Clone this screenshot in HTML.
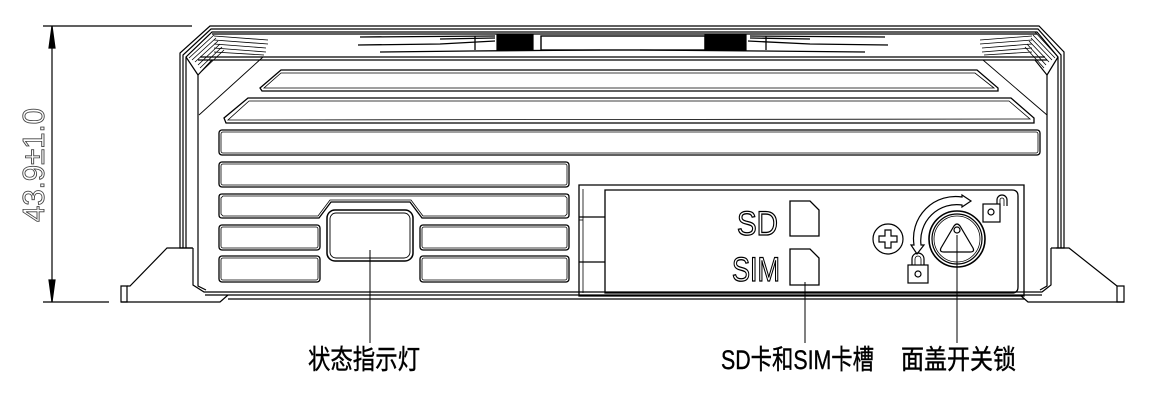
<!DOCTYPE html>
<html><head><meta charset="utf-8"><style>
html,body{margin:0;padding:0;background:#fff;}
svg{display:block;}
</style></head><body>
<svg width="1161" height="406" viewBox="0 0 1161 406" xmlns="http://www.w3.org/2000/svg" fill="none" stroke="#000" stroke-width="1.2">
<!-- dimension -->
<line x1="43" y1="26" x2="192" y2="26"/>
<line x1="43" y1="302" x2="109" y2="302"/>
<line x1="52" y1="26" x2="52" y2="302"/>
<polygon points="52,26 49,48 55,48" fill="#000"/>
<polygon points="52,302 49,280 55,280" fill="#000"/>
<text x="0" y="0" transform="translate(44,165) rotate(-90)" text-anchor="middle" font-family="Liberation Sans, sans-serif" font-size="31" textLength="114" lengthAdjust="spacingAndGlyphs" fill="none" stroke="#444" stroke-width="0.9">43.9±1.0</text>

<!-- body outer -->
<path d="M192,248 L180,248 L180,53 L210,26 L1039,26 L1064,52 L1064,248 L1056,248" />
<path d="M183,248 L183,55 L211,29 L1038,29 L1061,55 L1061,248"/>
<path d="M186,248 L186,57 L212,32 L1037,32 L1058,57 L1058,248"/>
<path d="M193,248 L193,285 L204,292 L1042,292 L1051,285 L1051,248"/>
<path d="M198,75 L198,286 L206,290"/>
<path d="M1047,75 L1047,286 L1040,290"/>
<line x1="205" y1="295" x2="1042" y2="295"/>
<line x1="228" y1="299" x2="1025" y2="299"/>
<!-- top band lines -->
<line x1="212" y1="34" x2="1037" y2="34"/>
<line x1="200" y1="57" x2="1045" y2="57"/>
<line x1="198" y1="60" x2="1047" y2="60"/>
<path d="M198,75 L212,60 M186,57 L198,75"/>
<path d="M1047,75 L1035,60 M1058,57 L1047,75"/>
<!-- hatching corners -->
<g stroke-width="0.8">
<path d="M186,57 L212,32 M189,58 L214,35 M192,60 L216,38 M195,62 L218,41 M198,65 L220,44 M200,68 L222,47 M202,71 L224,50"/>
<path d="M214,36 L268,40 M214,40 L268,44 M214,44 L266,48 M214,48 L266,52 M214,52 L264,55"/>
<path d="M1058,57 L1035,32 M1055,58 L1033,35 M1052,60 L1031,38 M1049,62 L1029,41 M1046,65 L1027,44 M1044,68 L1025,47"/>
<path d="M1032,36 L980,40 M1032,40 L980,44 M1032,44 L982,48 M1032,48 L982,52 M1032,52 L984,55"/>
</g>
<!-- center top details -->
<rect x="497" y="35" width="36" height="15" fill="#000"/>
<rect x="705" y="35" width="41" height="15" fill="#000"/>
<rect x="541" y="36" width="164" height="14" stroke-width="1.4"/>
<g stroke-width="1.3">
<path d="M360,37 L495,36 M440,39 L495,38"/>
<path d="M358,45 L440,44 L495,41"/>
<path d="M380,52 L470,51 L600,50"/>
<path d="M750,36 L885,37 M750,38 L810,39"/>
<path d="M748,41 L810,44 L888,45"/>
<path d="M640,50 L760,51 L865,52"/>
<line x1="475" y1="36" x2="475" y2="50"/><line x1="766" y1="36" x2="766" y2="50"/>
</g>
<line x1="263" y1="57" x2="199" y2="115" stroke-width="0.9"/>
<line x1="983" y1="60" x2="1047" y2="115" stroke-width="0.9"/>

<!-- vents -->
<g stroke-width="1.3">
<path d="M281,70 L977,70 L998,88 L998,91 L262,91 L260,88 Z"/>
<path d="M281,73 L975,73 L994,88 L264,88 Z" stroke-width="0.8"/>
<path d="M248,98 L1011,98 L1034,118 L1034,123 L226,123 L224,118 Z"/>
<path d="M249,101 L1009,101 L1030,119 L228,120 Z" stroke-width="0.8"/>
<rect x="219" y="130" width="821" height="25" rx="3"/>
<rect x="221" y="132" width="817" height="21" rx="2" stroke-width="0.8"/>
<rect x="219" y="162" width="350" height="25" rx="3"/>
<rect x="221" y="164" width="346" height="21" rx="2" stroke-width="0.8"/>
<path d="M222,194 L566,194 Q569,194 569,197 L569,215 Q569,218 566,218 L422,218 L410,202 L331,202 L319,218 L222,218 Q219,218 219,215 L219,197 Q219,194 222,194 Z"/>
<path d="M223,196 L565,196 L567,198 L567,214 L565,216 L423,216 L411,200 L330,200 L318,216 L223,216 L221,214 L221,198 Z" stroke-width="0.8"/>
<rect x="219" y="225" width="101" height="25" rx="3"/>
<rect x="221" y="227" width="97" height="21" rx="2" stroke-width="0.8"/>
<rect x="420" y="225" width="149" height="25" rx="3"/>
<rect x="422" y="227" width="145" height="21" rx="2" stroke-width="0.8"/>
<rect x="219" y="256" width="101" height="26" rx="3"/>
<rect x="221" y="258" width="97" height="22" rx="2" stroke-width="0.8"/>
<rect x="420" y="256" width="149" height="26" rx="3"/>
<rect x="422" y="258" width="145" height="22" rx="2" stroke-width="0.8"/>
<!-- LED -->
<rect x="327" y="210" width="86" height="51" rx="8" stroke-width="1.5"/>
<rect x="330" y="213" width="80" height="45" rx="6" stroke-width="0.9"/>
</g>

<!-- feet -->
<path d="M121,286 L121,302 L127,302 L127,286 Z"/>
<path d="M127,286 L130,286 L167,248 L193,248"/>
<path d="M121,302 L220,302 L228,295"/>
<path d="M1124,286 L1124,302 L1117,302 L1117,286 Z"/>
<path d="M1117,286 L1069,248 L1051,248"/>
<path d="M1124,302 L1028,302 L1020,295"/>

<!-- SD panel -->
<g stroke-width="1.3">
<path d="M579,185 L1024,185 L1024,296 L579,296 Z"/>
<path d="M605,190 L1012,190 Q1018,190 1018,196 L1018,287 Q1018,293 1012,293 L605,293 Z"/>
<line x1="583" y1="189" x2="583" y2="293" stroke-width="0.8"/>
<line x1="579" y1="217" x2="605" y2="217"/>
<line x1="579" y1="262" x2="605" y2="262"/>
<line x1="579" y1="220" x2="583" y2="220" stroke-width="0.8"/>
<path d="M790,201 L810,201 L819,210 L819,236 L790,236 Z"/>
<path d="M790,249 L810,249 L819,258 L819,285 L790,285 Z"/>
</g>
<text x="737" y="235" font-family="Liberation Sans, sans-serif" font-size="34" textLength="41" lengthAdjust="spacingAndGlyphs" fill="#fff" stroke="#000" stroke-width="1.3">SD</text>
<text x="732" y="281" font-family="Liberation Sans, sans-serif" font-size="34" textLength="48" lengthAdjust="spacingAndGlyphs" fill="#fff" stroke="#000" stroke-width="1.3">SIM</text>

<!-- plus circle -->
<circle cx="888" cy="239" r="15"/>
<path d="M885,230 L891,230 L891,236 L897,236 L897,242 L891,242 L891,248 L885,248 L885,242 L879,242 L879,236 L885,236 Z"/>
<!-- knob -->
<circle cx="957" cy="239" r="28" stroke-width="1.6"/>
<circle cx="957" cy="239" r="25"/>
<circle cx="957" cy="239" r="23" stroke-width="0.8"/>
<path d="M954,226 Q957,222 960,226 L973,248 Q975,252 970,252 L944,252 Q939,252 941,248 Z"/>
<circle cx="957" cy="230" r="3"/>
<!-- arc arrow -->
<path d="M914,245 A42,42 0 0 1 962,197 L962,195 L971,201 L962,207 L962,205 A36,36 0 0 0 921,245 L924,245 L917,254 L911,245 Z" stroke-width="1.2"/>
<!-- closed lock -->
<path d="M912,265 L912,259 A6,6 0 0 1 924,259 L924,265"/>
<path d="M915,265 L915,259 A3,3 0 0 1 921,259 L921,265" stroke-width="0.8"/>
<rect x="908" y="265" width="20" height="18"/>
<circle cx="918" cy="274" r="3"/>
<!-- open lock -->
<rect x="983" y="204" width="17" height="18"/>
<circle cx="991" cy="212" r="3"/>
<path d="M997,204 L997,200 A5,5 0 0 1 1007,200 L1007,206"/>
<path d="M1000,204 L1000,200 A2,2 0 0 1 1004,200 L1004,206" stroke-width="0.8"/>

<!-- leaders -->
<line x1="370" y1="250" x2="370" y2="343" stroke-width="1"/>
<line x1="805" y1="282" x2="805" y2="343" stroke-width="1"/>
<line x1="957" y1="235" x2="957" y2="343" stroke-width="1"/>

<!-- labels -->
<g fill="#000" stroke="#000" stroke-width="0.4" font-family="Liberation Sans, 'Noto Sans CJK SC', sans-serif" font-size="27">
<text x="308" y="369" textLength="112" lengthAdjust="spacingAndGlyphs">状态指示灯</text>
<text x="721" y="369" textLength="153" lengthAdjust="spacingAndGlyphs">SD卡和SIM卡槽</text>
<text x="901" y="369" textLength="115" lengthAdjust="spacingAndGlyphs">面盖开关锁</text>
</g>
</svg>
</body></html>
